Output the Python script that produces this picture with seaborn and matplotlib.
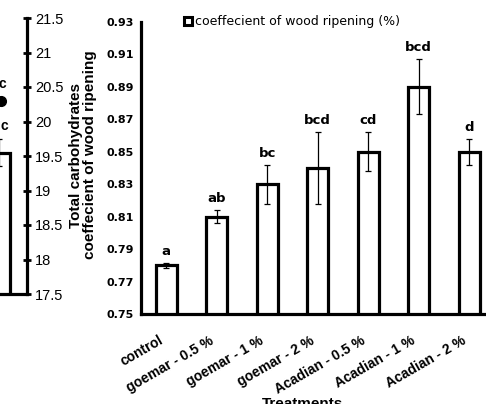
import matplotlib
matplotlib.use("Agg")
import matplotlib.pyplot as plt
import matplotlib.transforms as mtransforms
import seaborn as sns
import pandas as pd
from matplotlib.patches import Patch

# ---- data ----
treatments = ["control", "goemar - 0.5 %", "goemar - 1 %", "goemar - 2 %",
              "Acadian - 0.5 %", "Acadian - 1 %", "Acadian - 2 %"]
ripening = [0.780, 0.810, 0.830, 0.840, 0.850, 0.890, 0.850]
ripening_err = [0.0015, 0.004, 0.012, 0.022, 0.012, 0.017, 0.008]
letters = ["a", "ab", "bc", "bcd", "cd", "bcd", "d"]

# fragment of neighbouring chart (cut off at left)
frag_bar = [19.55]
frag_bar_err = [0.2]
frag_bar_letter = ["c"]
frag_dot = [20.3]
frag_dot_letter = ["c"]
frag_ticks = [17.5, 18, 18.5, 19, 19.5, 20, 20.5, 21, 21.5]
frag_ticklabels = ["17.5", "18", "18.5", "19", "19.5", "20", "20.5", "21", "21.5"]

sns.set_style("white")
plt.rcParams["font.family"] = ["Liberation Sans", "DejaVu Sans"]
for k in ["text.color", "axes.labelcolor", "xtick.color", "ytick.color",
          "axes.edgecolor"]:
    plt.rcParams[k] = "black"
WIDE = ["DejaVu Sans"]

W, H = 486, 404
fig = plt.figure(figsize=(W / 100, H / 100), dpi=100)

# ---- main axes ----
ax = fig.add_axes([141 / W, 90 / H, 353.5 / W, 292 / H])
df = pd.DataFrame({"Treatments": treatments, "value": ripening})
sns.barplot(data=df, x="Treatments", y="value", color="white", edgecolor="black",
            linewidth=2.3, width=0.42, errorbar=None, ax=ax, saturation=1)
ax.errorbar(range(len(treatments)), ripening, yerr=ripening_err, fmt="none",
            ecolor="black", elinewidth=0.9, capsize=2.3, capthick=0.9)
for i, (v, e, l) in enumerate(zip(ripening, ripening_err, letters)):
    ax.text(i, v + e + 0.003, l, ha="center", va="bottom", fontsize=9.5,
            fontweight="bold", family=WIDE, color="black")

ax.set_ylim(0.75, 0.93)
ax.set_xlim(-0.5, 6.5)
yt = [0.75 + 0.02 * k for k in range(10)]
ax.set_yticks(yt)
ax.set_yticklabels([f"{t:.2f}" for t in yt], fontsize=8, fontweight="bold",
                   family=WIDE)
ax.tick_params(axis="y", direction="inout", length=6, width=2, pad=2,
               colors="black")
ax.set_xticks(range(len(treatments)))
ax.set_xticklabels(treatments, rotation=30, ha="right", rotation_mode="anchor",
                   fontsize=10, fontweight="bold")
ax.set_xticks([k - 0.5 for k in range(len(treatments) + 1)], minor=True)
ax.tick_params(axis="x", which="major", length=0, pad=14, colors="black")
ax.tick_params(axis="x", which="minor", direction="inout", length=7, width=2,
               colors="black")
shift = mtransforms.ScaledTranslation(-8 / 100, 0, fig.dpi_scale_trans)
for lab in ax.get_xticklabels():
    lab.set_transform(lab.get_transform() + shift)
for s in ["top", "right"]:
    ax.spines[s].set_visible(False)
for s in ["left", "bottom"]:
    ax.spines[s].set_linewidth(2.3)
    ax.spines[s].set_color("black")
ax.set_xlabel("")
ax.set_ylabel("")

fig.text(83 / W, 1 - 155 / H, "Total carbohydrates\ncoeffecient of wood ripening",
         rotation=90, ha="center", va="center", fontsize=11, fontweight="bold",
         linespacing=1.0, color="black")
fig.text(302 / W, 1 - 397 / H, "Treatments", ha="center", va="top",
         fontsize=11, fontweight="bold", color="black")

ax.legend(handles=[Patch(facecolor="white", edgecolor="black", linewidth=2.2)],
          labels=["coeffecient of wood ripening (%)"], loc="center left",
          bbox_to_anchor=(184 / W, 1 - 22 / H), bbox_transform=fig.transFigure,
          frameon=False, handlelength=0.6, handleheight=0.6, handletextpad=0.3,
          borderpad=0, borderaxespad=0, prop={"family": WIDE, "size": 9},
          labelcolor="black")

# ---- fragment axes (neighbouring chart, cut off) ----
ax2 = fig.add_axes([-60 / W, 110 / H, 87 / W, 276 / H])
ax2.bar([-1], frag_bar, width=22, color="white", edgecolor="black", linewidth=2.3)
ax2.errorbar([-1], frag_bar, yerr=frag_bar_err, fmt="none", ecolor="black",
             elinewidth=0.9, capsize=2.3, capthick=0.9)
ax2.text(4, frag_bar[0] + frag_bar_err[0] + 0.08, frag_bar_letter[0],
         ha="center", va="bottom", fontsize=10, fontweight="bold", color="black")
ax2.plot([1], frag_dot, "o", color="black", markersize=7)
ax2.text(2, frag_dot[0] + 0.14, frag_dot_letter[0], ha="center", va="bottom",
         fontsize=10, fontweight="bold", color="black")
ax2.set_xlim(-60, 27)
ax2.set_ylim(17.5, 21.5)
ax2.yaxis.tick_right()
ax2.set_yticks(frag_ticks)
ax2.set_yticklabels(frag_ticklabels, fontsize=10.5,
                    family=["Liberation Sans Narrow", "Liberation Sans"])
ax2.tick_params(axis="y", direction="inout", length=6, width=2, pad=3,
                colors="black")
ax2.set_xticks([])
for s in ["top", "left"]:
    ax2.spines[s].set_visible(False)
for s in ["right", "bottom"]:
    ax2.spines[s].set_linewidth(2.3)
    ax2.spines[s].set_color("black")
ax2.patch.set_alpha(0)

fig.savefig("out.png", dpi=100)
